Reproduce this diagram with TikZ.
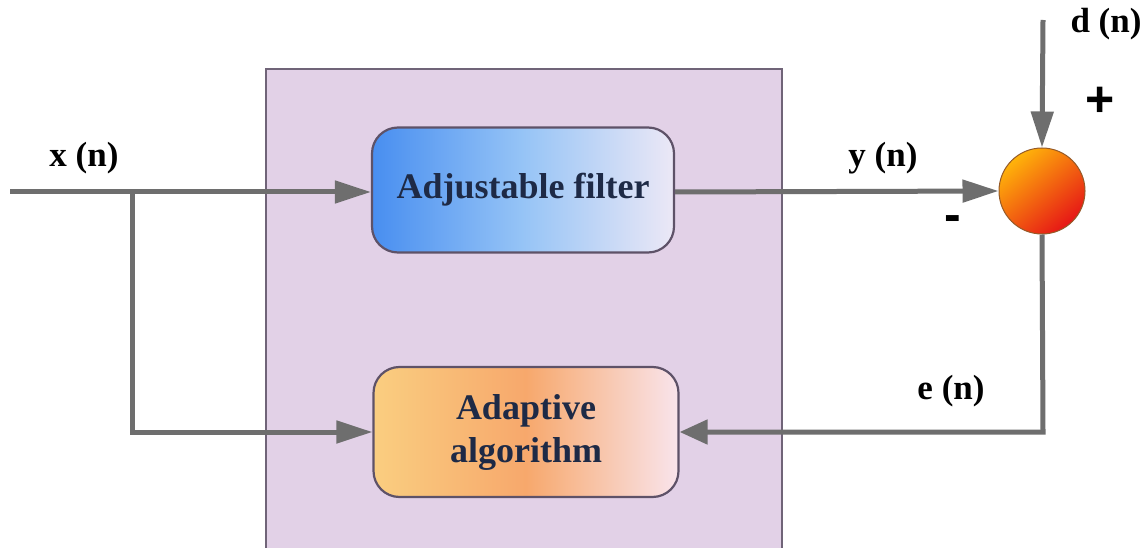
\documentclass[tikz,border=0pt]{standalone}
\usepackage{fontspec}
\setmainfont{Liberation Serif}
\newfontfamily\signfont{Liberation Sans}
\usetikzlibrary{arrows.meta,shapes.geometric}
\definecolor{wire}{HTML}{6E6E6E}
\definecolor{panel}{HTML}{E2D1E7}
\definecolor{panelrim}{HTML}{706478}
\definecolor{boxrim}{HTML}{5E5268}
\definecolor{navy}{HTML}{1E2A46}
\tikzset{
  wirestyle/.style={draw=wire, line width=5pt},
  arr/.style={-{Triangle[length=36pt,width=22pt]}},
  blockbox/.style={rounded corners=26pt, draw=boxrim, line width=2.2pt,
    font=\fontsize{36}{43}\selectfont\bfseries, text=navy, align=center,
    inner sep=0pt},
  sig/.style={font=\fontsize{35}{38}\selectfont\bfseries, text=black, inner sep=0pt},
  signmark/.style={font=\signfont\fontsize{50}{50}\selectfont\bfseries, text=black, inner sep=0pt}
}
\begin{document}
\begin{tikzpicture}[x=1pt,y=-1pt]
\useasboundingbox (0,0) rectangle (1148,548);
% background panel
\begin{scope}
\clip (0,0) rectangle (1148,548);
\fill[white] (0,0) rectangle (1148,548);
\draw[fill=panel, draw=panelrim, line width=2pt] (266,69) rectangle (782,560);
\end{scope}

% blocks
\node[blockbox, minimum width=302pt, minimum height=125pt,
  left color={rgb,255:red,72;green,142;blue,240},
  right color={rgb,255:red,236;green,232;blue,246},
  middle color={rgb,255:red,150;green,196;blue,246}]
  (filt) at (523,190) {Adjustable filter};
\node[blockbox, minimum width=305pt, minimum height=130pt,
  left color={rgb,255:red,250;green,206;blue,128},
  right color={rgb,255:red,249;green,228;blue,236},
  middle color={rgb,255:red,247;green,168;blue,108}]
  (adapt) at (526,432) {Adaptive\\algorithm};

% summing junction
\node[circle, minimum size=86pt, inner sep=0pt, draw={rgb,255:red,150;green,90;blue,40}, line width=1pt,
  shading=axis, top color={rgb,255:red,255;green,180;blue,10},
  bottom color={rgb,255:red,230;green,22;blue,22}, shading angle=40]
  (sum) at (1042,191) {};

% terminals and corners
\coordinate (xin) at (10,192);
\coordinate (tap) at (132,192);
\coordinate (tapdown) at (132,432);
\coordinate (dtop) at (1043,20);
\coordinate (ecorner) at (1043,432);

% signal lines
\draw[wirestyle, arr] (xin) -- (filt.west |- xin);
\draw[wirestyle, arr] (tap) -- (tapdown) -- (adapt.west);
\draw[wirestyle, arr] (filt.east |- xin) -- (sum.west);
\draw[wirestyle, arr] (dtop) -- (sum.north);
\draw[wirestyle, -{Triangle[length=28pt,width=24pt]}] (sum.south) -- (ecorner) -- (adapt.east);

% labels
\node[sig] (lx) at (84,158) {x (n)};
\node[sig] (ly) at (883,158) {y (n)};
\node[sig] (ld) at (1106,24) {d (n)};
\node[sig] (le) at (951,391) {e (n)};
\node[signmark] (lplus) at (1100,102) {+};
\node[signmark] (lminus) at (953,224) {-};
\end{tikzpicture}
\end{document}
